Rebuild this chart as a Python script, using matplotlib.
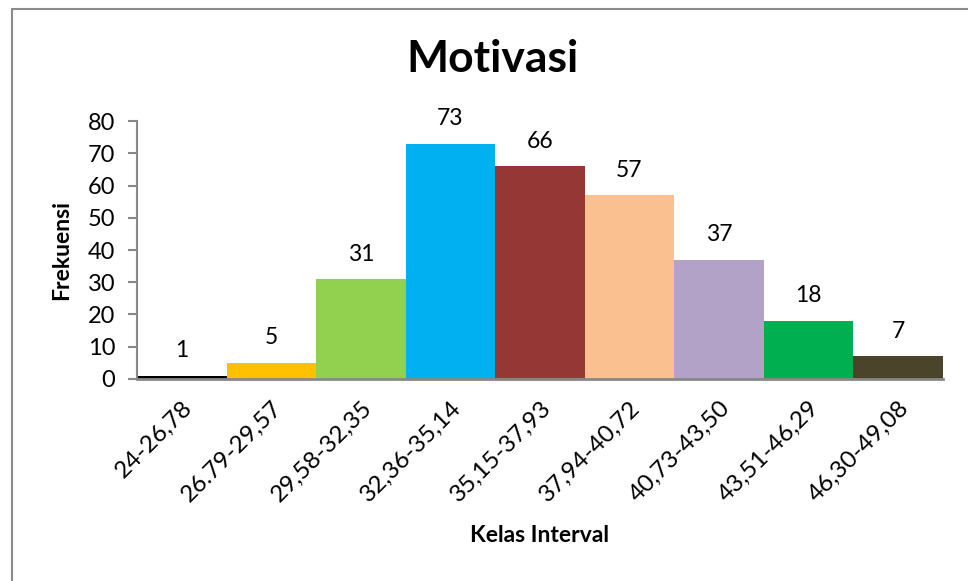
import matplotlib.pyplot as plt
from matplotlib.patches import Rectangle

kelas = ["24-26,78", "26.79-29,57", "29,58-32,35", "32,36-35,14", "35,15-37,93",
         "37,94-40,72", "40,73-43,50", "43,51-46,29", "46,30-49,08"]
frekuensi = [1, 5, 31, 73, 66, 57, 37, 18, 7]
warna = ["#000000", "#FFC000", "#92D050", "#00B0F0", "#953735",
         "#FAC090", "#B3A2C7", "#00B050", "#4A452A"]

plt.rcParams["font.family"] = ["Lato", "DejaVu Sans"]

fig = plt.figure(figsize=(9.68, 5.81), dpi=100)
ax = fig.add_axes([0.1415, 0.3477, 0.8325, 0.444])

# frame around the chart area
fig.patches.append(Rectangle((12 / 968, -0.1), 1.2, (581 - 9) / 581 + 0.1,
                             transform=fig.transFigure, fill=False,
                             edgecolor="#8c8c8c", linewidth=1.5))

x = range(len(kelas))
bars = ax.bar(x, frekuensi, width=1.0, color=warna)
for b, v in zip(bars, frekuensi):
    ax.annotate(str(v), (b.get_x() + b.get_width() / 2, v), xytext=(0, 18),
                textcoords="offset points", ha="center", va="center", fontsize=16.5)

ax.set_xlim(-0.5, len(kelas) - 0.5)
ax.set_ylim(0, 80)
ax.set_yticks(range(0, 81, 10))
ax.set_xticks(list(x))
ax.set_xticklabels(kelas, rotation=45, ha="right", rotation_mode="anchor", fontsize=17.5)
ax.tick_params(axis="y", labelsize=17, color="#888888", length=6.5, width=1.5, pad=9)
ax.tick_params(axis="x", length=0, pad=13)

for s in ["top", "right"]:
    ax.spines[s].set_visible(False)
ax.spines["left"].set_color("#888888")
ax.spines["left"].set_linewidth(1.5)
ax.spines["bottom"].set_color("#888888")
ax.spines["bottom"].set_linewidth(2)

ax.set_ylabel("Frekuensi", fontsize=16.5, fontweight="bold", ha="center", va="center")
ax.set_xlabel("Kelas Interval", fontsize=16.5, fontweight="bold", ha="center", va="center")
ax.yaxis.set_label_coords((62 - 137) / 806, 0.5)
ax.xaxis.set_label_coords(0.5, (379 - 536) / 258)

fig.text(492 / 968, 1 - 59 / 581, "Motivasi", fontsize=32, fontweight="bold",
         ha="center", va="center")

fig.savefig("out.png", dpi=100)
